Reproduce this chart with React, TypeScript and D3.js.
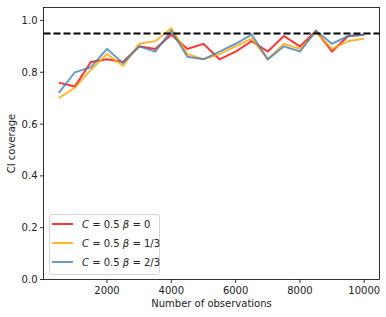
import React from 'react';
import * as d3 from 'd3';

const observations = [500, 1000, 1500, 2000, 2500, 3000, 3500, 4000, 4500, 5000, 5500, 6000, 6500, 7000, 7500, 8000, 8500, 9000, 9500, 10000];
const betaZero = [0.76, 0.745, 0.84, 0.85, 0.84, 0.9, 0.89, 0.945, 0.89, 0.91, 0.85, 0.88, 0.92, 0.88, 0.94, 0.9, 0.96, 0.88, 0.94, 0.945];
const betaThird = [0.7, 0.74, 0.81, 0.87, 0.825, 0.91, 0.92, 0.97, 0.87, 0.85, 0.87, 0.9, 0.93, 0.85, 0.91, 0.89, 0.955, 0.89, 0.92, 0.93];
const betaTwoThirds = [0.72, 0.8, 0.82, 0.89, 0.835, 0.9, 0.88, 0.96, 0.86, 0.85, 0.88, 0.91, 0.945, 0.85, 0.9, 0.88, 0.96, 0.91, 0.94, 0.945];
const target = 0.95;
const xTicks = [2000, 4000, 6000, 8000, 10000];
const yTicks = [0, 0.2, 0.4, 0.6, 0.8, 1.0];

const series = [
  { beta: '0', values: betaZero, color: 'rgba(255,0,0,0.8)' },
  { beta: '1/3', values: betaThird, color: 'rgba(255,165,0,0.8)' },
  { beta: '2/3', values: betaTwoThirds, color: 'rgba(70,130,180,0.8)' },
];

const App: React.FC = () => {
  const left = 43.5;
  const right = 379.5;
  const top = 7.5;
  const bottom = 279.5;

  const x = d3.scaleLinear().domain([25, 10475]).range([left, right]);
  const y = d3.scaleLinear().domain([0, 1.05]).range([bottom, top]);

  const line = d3
    .line<number>()
    .x((_, i) => x(observations[i]))
    .y((d) => y(d));

  const font = 'DejaVu Sans, sans-serif';

  return (
    <svg width={386} height={317} style={{ position: 'absolute', left: 0, top: 0 }} fontFamily={font}>
      <rect width={386} height={317} fill="#fff" />

      {series.map((s) => (
        <path key={s.beta} d={line(s.values) ?? ''} fill="none" stroke={s.color} strokeWidth={2} />
      ))}

      <line x1={left} x2={right} y1={y(target)} y2={y(target)} stroke="#000" strokeWidth={2} strokeDasharray="7,3" />

      {/* frame */}
      <rect x={left} y={top} width={right - left} height={bottom - top} fill="none" stroke="#000" strokeWidth={0.8} />

      {/* x axis */}
      {xTicks.map((t) => (
        <g key={t} transform={`translate(${x(t)},${bottom})`}>
          <line y2={3.5} stroke="#000" strokeWidth={0.8} />
          <text y={14} textAnchor="middle" fontSize={10} fill="#222">{t}</text>
        </g>
      ))}
      <text x={(left + right) / 2} y={307} textAnchor="middle" fontSize={10} fill="#222">Number of observations</text>

      {/* y axis */}
      {yTicks.map((t) => (
        <g key={t} transform={`translate(${left},${y(t)})`}>
          <line x2={-3.5} stroke="#000" strokeWidth={0.8} />
          <text x={-6} dy="0.35em" textAnchor="end" fontSize={10} fill="#222">{t.toFixed(1)}</text>
        </g>
      ))}
      <text transform={`translate(15,${(top + bottom) / 2}) rotate(-90)`} textAnchor="middle" fontSize={10} fill="#222">CI coverage</text>

      {/* legend */}
      <rect x={49.5} y={214.5} width={110} height={60} rx={2} fill="#fff" fillOpacity={0.8} stroke="#ccc" strokeWidth={0.8} />
      {series.map((s, i) => {
        const ly = 224 + i * 19;
        return (
          <g key={s.beta}>
            <line x1={52} x2={73} y1={ly} y2={ly} stroke={s.color} strokeWidth={2} />
            <text x={82} y={ly} dy="0.35em" fontSize={10} fill="#222">
              <tspan fontStyle="italic">C</tspan>
              <tspan> = 0.5 </tspan>
              <tspan fontStyle="italic">β</tspan>
              <tspan> = {s.beta}</tspan>
            </text>
          </g>
        );
      })}
    </svg>
  );
};

export default App;
